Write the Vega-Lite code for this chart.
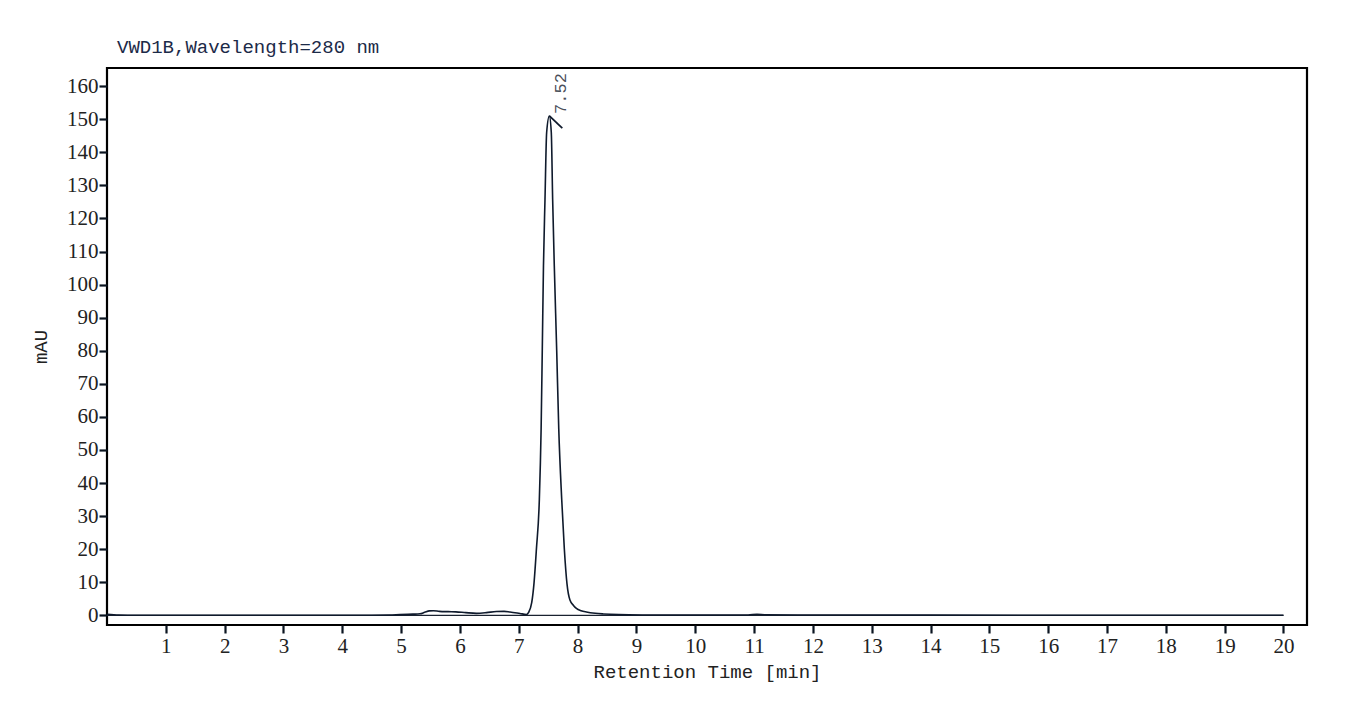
{
  "$schema": "https://vega.github.io/schema/vega-lite/v6.json",
  "width": 1200,
  "height": 557,
  "autosize": "none",
  "padding": {"left": 107, "top": 68, "right": 42, "bottom": 84},
  "background": "white",
  "config": {
    "view": {"stroke": "#000000", "strokeWidth": 2.2},
    "axis": {
      "domain": false,
      "grid": false,
      "ticks": true,
      "tickColor": "#0a1420",
      "tickWidth": 2.2,
      "tickSize": 8,
      "labelFont": "Liberation Serif",
      "labelFontSize": 21,
      "labelColor": "#222222",
      "titleFont": "Liberation Mono",
      "titleFontSize": 19,
      "titleFontWeight": "normal",
      "titleColor": "#222222"
    }
  },
  "title": {
    "text": "VWD1B,Wavelength=280 nm",
    "anchor": "start",
    "frame": "group",
    "dx": 10,
    "offset": 11,
    "font": "Liberation Mono",
    "fontSize": 19,
    "fontWeight": "normal",
    "color": "#1c2a48"
  },
  "datasets": {
    "trace": [
      {"t": 0, "v": 0.3}, {"t": 0.2, "v": 0.05}, {"t": 0.5, "v": 0}, {"t": 1, "v": 0}, {"t": 2, "v": 0},
      {"t": 3, "v": 0}, {"t": 4, "v": 0}, {"t": 4.5, "v": 0}, {"t": 4.8, "v": 0.05}, {"t": 4.98, "v": 0.2},
      {"t": 5.2, "v": 0.35}, {"t": 5.32, "v": 0.45}, {"t": 5.4, "v": 0.9}, {"t": 5.48, "v": 1.35},
      {"t": 5.55, "v": 1.4}, {"t": 5.65, "v": 1.2}, {"t": 5.8, "v": 1.1}, {"t": 5.93, "v": 1.05},
      {"t": 6.1, "v": 0.8}, {"t": 6.28, "v": 0.6}, {"t": 6.45, "v": 0.8}, {"t": 6.62, "v": 1.15},
      {"t": 6.75, "v": 1.2}, {"t": 6.85, "v": 1.0}, {"t": 7.02, "v": 0.55}, {"t": 7.13, "v": 0.25},
      {"t": 7.165, "v": 0.8}, {"t": 7.22, "v": 3.8}, {"t": 7.26, "v": 9.9}, {"t": 7.3, "v": 20},
      {"t": 7.35, "v": 35.1}, {"t": 7.38, "v": 56.3}, {"t": 7.4, "v": 80.5}, {"t": 7.42, "v": 105.7},
      {"t": 7.446, "v": 125.8}, {"t": 7.474, "v": 146}, {"t": 7.52, "v": 151}, {"t": 7.553, "v": 146},
      {"t": 7.576, "v": 125.8}, {"t": 7.604, "v": 105.7}, {"t": 7.645, "v": 80}, {"t": 7.68, "v": 56.3},
      {"t": 7.73, "v": 35.1}, {"t": 7.775, "v": 20}, {"t": 7.82, "v": 9.5}, {"t": 7.87, "v": 4.6},
      {"t": 7.93, "v": 3.0}, {"t": 7.98, "v": 2.1}, {"t": 8.06, "v": 1.4}, {"t": 8.15, "v": 1.0},
      {"t": 8.3, "v": 0.6}, {"t": 8.44, "v": 0.4}, {"t": 8.7, "v": 0.2}, {"t": 9.1, "v": 0.1},
      {"t": 10, "v": 0.05}, {"t": 10.9, "v": 0.1}, {"t": 11.05, "v": 0.3}, {"t": 11.2, "v": 0.15},
      {"t": 12, "v": 0.1}, {"t": 14, "v": 0.05}, {"t": 17, "v": 0.02}, {"t": 20, "v": 0}
    ],
    "baseline": [{"t": 0, "t2": 20, "v": 0}],
    "peak": [{"t": 7.52, "v": 151, "t2": 7.74, "v2": 147.3, "label": "7.52"}]
  },
  "encoding": {
    "x": {
      "field": "t",
      "type": "quantitative",
      "scale": {"domain": [0, 20.4], "nice": false, "zero": false},
      "axis": {
        "values": [1, 2, 3, 4, 5, 6, 7, 8, 9, 10, 11, 12, 13, 14, 15, 16, 17, 18, 19, 20],
        "title": "Retention Time [min]",
        "labelPadding": 2,
        "titlePadding": 6,
        "labelFlush": false
      }
    },
    "y": {
      "field": "v",
      "type": "quantitative",
      "scale": {"domain": [-2.93, 165.5], "nice": false, "zero": false},
      "axis": {
        "values": [0, 10, 20, 30, 40, 50, 60, 70, 80, 90, 100, 110, 120, 130, 140, 150, 160],
        "title": "mAU",
        "labelPadding": 1,
        "titlePadding": 16,
        "labelFlush": false
      }
    }
  },
  "layer": [
    {
      "data": {"name": "baseline"},
      "mark": {"type": "rule", "color": "#1a2230", "strokeWidth": 1.3},
      "encoding": {"x2": {"field": "t2"}}
    },
    {
      "data": {"name": "trace"},
      "mark": {"type": "line", "color": "#0f1a2c", "strokeWidth": 1.6, "interpolate": "monotone"}
    },
    {
      "data": {"name": "peak"},
      "mark": {"type": "rule", "color": "#0f1a2c", "strokeWidth": 1.8},
      "encoding": {"x2": {"field": "t2"}, "y2": {"field": "v2"}}
    },
    {
      "data": {"name": "peak"},
      "mark": {
        "type": "text",
        "angle": 270,
        "align": "left",
        "baseline": "middle",
        "dx": 2,
        "dy": 12,
        "font": "Liberation Mono",
        "fontSize": 17,
        "color": "#4a4f5a"
      },
      "encoding": {"text": {"field": "label"}}
    }
  ]
}
